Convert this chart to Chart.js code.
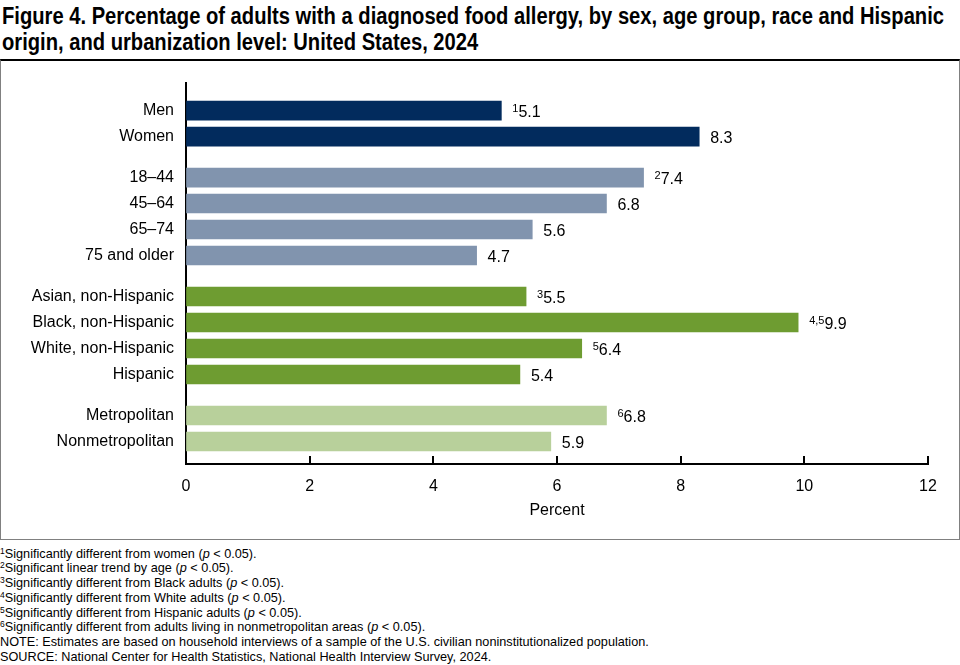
<!DOCTYPE html>
<html>
<head>
<meta charset="utf-8">
<script src="https://cdn.jsdelivr.net/npm/chart.js@4/dist/chart.umd.min.js"></script>
<style>
  html, body { margin: 0; padding: 0; background: #fff; }
  body { width: 960px; height: 665px; position: relative; overflow: hidden; font-family: "Liberation Sans", Arial, sans-serif; color: #000; }
  #title { position: absolute; left: 2px; top: 3px; font-family: "Liberation Sans Narrow", "Arial Narrow", "Liberation Sans", sans-serif; font-weight: bold; font-size: 23px; line-height: 26px; white-space: nowrap; transform-origin: 0 0; }
  #title span { display: inline-block; }
  #box { position: absolute; left: 0; top: 59px; width: 960px; height: 481px; box-sizing: border-box; border-top: 2px solid #000; border-left: 1.5px solid #808080; border-right: 1.5px solid #808080; border-bottom: 1.5px solid #808080; }
  #wrap { position: absolute; left: 0; top: 61px; width: 958px; height: 476px; }
  #notes { position: absolute; left: 0; top: 546.5px; font-size: 12.7px; line-height: 14.8px; white-space: nowrap; }
  #notes sup { font-size: 8.5px; vertical-align: 4px; line-height: 0; }
</style>
</head>
<body>
<div id="title"><span id="t1">Figure 4. Percentage of adults with a diagnosed food allergy, by sex, age group, race and Hispanic</span><br><span>origin, and urbanization level: United States, 2024</span></div>
<div id="box"></div>
<div id="wrap"><canvas id="chart" width="958" height="476"></canvas></div>
<div id="notes">
  <div><sup>1</sup>Significantly different from women (<i>p</i> &lt; 0.05).</div>
  <div><sup>2</sup>Significant linear trend by age (<i>p</i> &lt; 0.05).</div>
  <div><sup>3</sup>Significantly different from Black adults (<i>p</i> &lt; 0.05).</div>
  <div><sup>4</sup>Significantly different from White adults (<i>p</i> &lt; 0.05).</div>
  <div><sup>5</sup>Significantly different from Hispanic adults (<i>p</i> &lt; 0.05).</div>
  <div><sup>6</sup>Significantly different from adults living in nonmetropolitan areas (<i>p</i> &lt; 0.05).</div>
  <div>NOTE: Estimates are based on household interviews of a sample of the U.S. civilian noninstitutionalized population.</div>
  <div>SOURCE: National Center for Health Statistics, National Health Interview Survey, 2024.</div>
</div>
<script>
// data
const categories = ['Men', 'Women', '18\u201344', '45\u201364', '65\u201374', '75 and older',
  'Asian, non-Hispanic', 'Black, non-Hispanic', 'White, non-Hispanic', 'Hispanic',
  'Metropolitan', 'Nonmetropolitan'];
const percents = [5.1, 8.3, 7.4, 6.8, 5.6, 4.7, 5.5, 9.9, 6.4, 5.4, 6.8, 5.9];
const notes = ['1', '', '2', '', '', '', '3', '4,5', '5', '', '6', ''];
const groups = [0, 0, 1, 1, 1, 1, 2, 2, 2, 2, 3, 3];
const xTicks = [0, 2, 4, 6, 8, 10, 12];

// styling / layout
const groupColors = ['#022b5d', '#8194ae', '#6e9c31', '#b8d09b'];
const GROUP_GAP = 15 / 26;   // extra space between groups, in bar slots
const PAD_TOP = 1.06;
const PAD_BOTTOM = 0.865;
const FONT = '"Liberation Sans", Arial, sans-serif';

// squeeze the title to the width of the condensed original
const title = document.getElementById('title');
const w1 = document.getElementById('t1').getBoundingClientRect().width;
title.style.transform = 'scaleX(' + (942 / w1) + ')';

const positions = categories.map((c, i) => i + groups[i] * GROUP_GAP);

const valueLabels = {
    id: 'valueLabels',
    afterDatasetsDraw(chart) {
        const ctx = chart.ctx;
        const meta = chart.getDatasetMeta(0);
        ctx.save();
        ctx.fillStyle = '#000';
        ctx.textAlign = 'left';
        ctx.textBaseline = 'alphabetic';
        meta.data.forEach((bar, i) => {
            let x = bar.x + 11;
            if (notes[i]) {
                ctx.font = '11px ' + FONT;
                ctx.fillText(notes[i], x, bar.y + 1.5);
                x += ctx.measureText(notes[i]).width;
            }
            ctx.font = '16px ' + FONT;
            ctx.fillText(percents[i].toFixed(1), x, bar.y + 6.5);
        });
        ctx.restore();
    }
};

// tick marks on the x axis point up into the plot
const innerTicks = {
    id: 'innerTicks',
    afterDraw(chart) {
        const ctx = chart.ctx;
        const xs = chart.scales.x;
        const bottom = chart.chartArea.bottom;
        ctx.save();
        ctx.strokeStyle = '#000';
        ctx.lineWidth = 2;
        xTicks.forEach(v => {
            const px = Math.round(xs.getPixelForValue(v));
            ctx.beginPath();
            ctx.moveTo(px, bottom + 1);
            ctx.lineTo(px, bottom - 8);
            ctx.stroke();
        });
        ctx.restore();
    }
};

new Chart(document.getElementById('chart').getContext('2d'), {
    type: 'bar',
    data: {
        datasets: [{
            data: percents.map((v, i) => ({ x: v, y: positions[i] })),
            backgroundColor: groups.map(g => groupColors[g]),
            barThickness: 19,
            borderWidth: 0
        }]
    },
    options: {
        indexAxis: 'y',
        responsive: false,
        animation: false,
        devicePixelRatio: 1,
        layout: { padding: { top: 22, right: 30, bottom: 0, left: 0 } },
        plugins: {
            legend: { display: false },
            tooltip: { enabled: false }
        },
        scales: {
            x: {
                type: 'linear',
                min: 0,
                max: 12,
                afterBuildTicks: axis => { axis.ticks = xTicks.map(v => ({ value: v })); },
                afterFit: axis => {
                    axis.height = 73;
                    axis.paddingLeft = 0;
                    axis.paddingRight = 0;
                },
                ticks: { color: '#000', font: { family: FONT, size: 16 }, padding: 13, autoSkip: false },
                grid: { drawOnChartArea: false, drawTicks: false },
                border: { display: true, color: '#000', width: 2 },
                title: { display: true, text: 'Percent', color: '#000', font: { family: FONT, size: 16 }, padding: { top: 0, bottom: 17 } }
            },
            y: {
                type: 'linear',
                reverse: true,
                offset: false,
                bounds: 'data',
                min: -PAD_TOP,
                max: positions[positions.length - 1] + PAD_BOTTOM,
                afterBuildTicks: axis => { axis.ticks = positions.map(v => ({ value: v })); },
                afterFit: axis => {
                    axis.width = 186;
                    axis.paddingTop = 0;
                    axis.paddingBottom = 0;
                },
                ticks: {
                    color: '#000',
                    font: { family: FONT, size: 16 },
                    padding: 12,
                    autoSkip: false,
                    callback: (value, index) => categories[index]
                },
                grid: { drawOnChartArea: false, drawTicks: false, offset: false },
                border: { display: true, color: '#000', width: 2 }
            }
        }
    },
    plugins: [valueLabels, innerTicks]
});
</script>
</body>
</html>
